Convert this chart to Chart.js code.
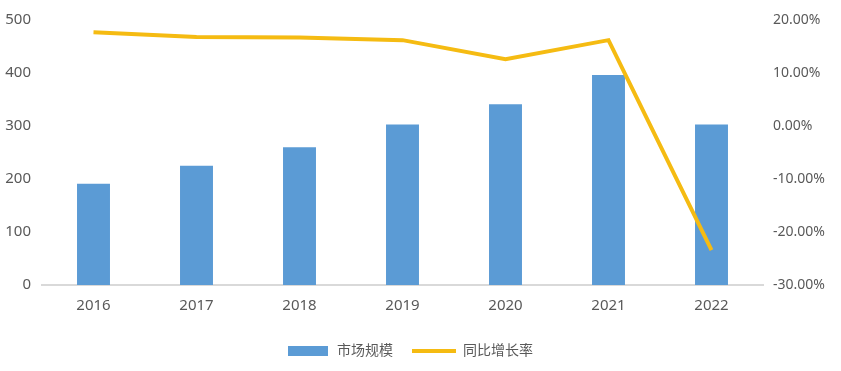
<!DOCTYPE html>
<html>
<head>
<meta charset="utf-8">
<script src="https://cdn.jsdelivr.net/npm/chart.js@4"></script>
<style>
  html, body { margin: 0; padding: 0; background: #fff; }
  #wrap { width: 841px; height: 371px; }
</style>
</head>
<body>
<div id="wrap"><canvas id="c" width="841" height="371"></canvas></div>
<script>
const years = ['2016', '2017', '2018', '2019', '2020', '2021', '2022'];
const marketSize = [191, 225, 260, 303, 341, 396, 303];
const growthRate = [17.7, 16.8, 16.7, 16.2, 12.6, 16.2, -23.4];
const leftTicks = [0, 100, 200, 300, 400, 500];
const rightTicks = [-30, -20, -10, 0, 10, 20];

const blue = '#5b9bd5';
const gold = '#f5bb12';
const tickColor = '#595959';

// 40x10 blue swatch for the bar legend item
const swatch = document.createElement('canvas');
swatch.width = 40;
swatch.height = 10;
const sctx = swatch.getContext('2d');
sctx.fillStyle = blue;
sctx.fillRect(0, 0, 40, 10);

const fontFamily = '"Noto Sans", "Noto Sans CJK SC", sans-serif';

// legend sits a bit left of centre in the original
const legendShift = {
    id: 'legendShift',
    afterLayout(chart) {
        chart.legend.left -= 11;
        chart.legend.right -= 11;
    }
};

new Chart(document.getElementById('c'), {
    data: {
        labels: years,
        datasets: [
            {
                type: 'bar',
                label: '市场规模',
                data: marketSize,
                backgroundColor: blue,
                yAxisID: 'y',
                categoryPercentage: 1,
                barPercentage: 0.32,
                order: 2,
                pointStyle: swatch
            },
            {
                type: 'line',
                label: '同比增长率',
                data: growthRate,
                borderColor: gold,
                backgroundColor: gold,
                borderWidth: 4,
                pointRadius: 0,
                tension: 0,
                yAxisID: 'y1',
                order: 1,
                pointStyle: 'line'
            }
        ]
    },
    options: {
        responsive: false,
        animation: false,
        events: [],
        layout: { padding: { top: 19, bottom: 3, left: 0, right: 0 } },
        plugins: {
            legend: {
                position: 'bottom',
                labels: {
                    usePointStyle: true,
                    pointStyleWidth: 44,
                    boxHeight: 10,
                    color: tickColor,
                    padding: 19,
                    font: { size: 14, family: fontFamily },
                    sort: (a, b) => a.datasetIndex - b.datasetIndex
                }
            },
            tooltip: { enabled: false }
        },
        scales: {
            x: {
                grid: { display: false, drawTicks: false },
                border: { display: true, color: '#d9d9d9', width: 2 },
                ticks: { color: tickColor, padding: 12, font: { size: 15, family: fontFamily } },
                afterFit: (s) => { s.height = 40; }
            },
            y: {
                position: 'left',
                min: 0,
                max: 500,
                grid: { display: false, drawTicks: false },
                border: { display: false },
                afterBuildTicks: (s) => { s.ticks = leftTicks.map(v => ({ value: v })); },
                ticks: { color: tickColor, padding: 11, font: { size: 15, family: fontFamily } },
                afterFit: (s) => { s.width = 42; }
            },
            y1: {
                position: 'right',
                min: -30,
                max: 20,
                grid: { display: false, drawTicks: false },
                border: { display: false },
                afterBuildTicks: (s) => { s.ticks = rightTicks.map(v => ({ value: v })); },
                ticks: {
                    color: tickColor,
                    padding: 10,
                    font: { size: 14, family: fontFamily },
                    callback: (v) => v.toFixed(2) + '%'
                },
                afterFit: (s) => { s.width = 78; }
            }
        }
    },
    plugins: [legendShift]
});
</script>
</body>
</html>
